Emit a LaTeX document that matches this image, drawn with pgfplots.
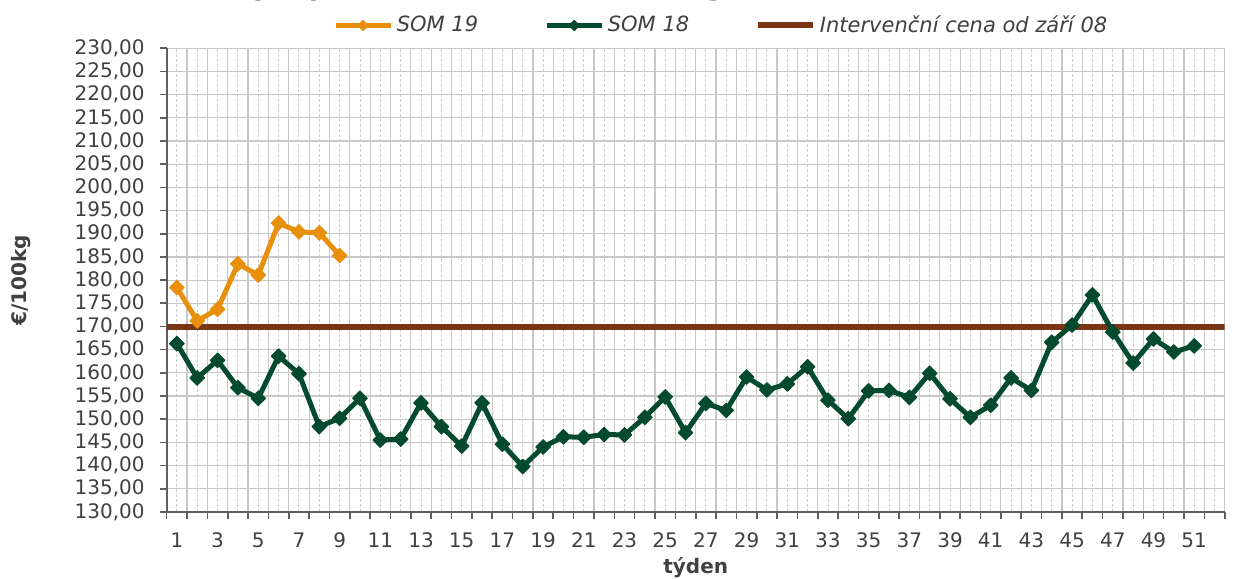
\documentclass[border=0pt]{standalone}
\usepackage{pgfplots}
\pgfplotsset{compat=1.18}
\usepackage{fontspec}
\setmainfont{DejaVu Sans}
\definecolor{somor}{RGB}{232,144,12}
\definecolor{somgr}{RGB}{4,74,46}
\definecolor{intbr}{RGB}{122,52,22}
\definecolor{gridc}{RGB}{200,200,200}
\definecolor{gridd}{RGB}{205,205,205}
\definecolor{axc}{RGB}{95,95,95}
\definecolor{txt}{RGB}{64,64,64}
\begin{document}
\begin{tikzpicture}
\node[anchor=base west, inner sep=0pt, font=\fontsize{15}{18}\bfseries\selectfont, text=somgr] at (31.15pt,258.6pt) {Vývoj cen SOM v EU (€/100kg)};
\begin{axis}[
 at={(0,0)}, anchor=south west,
 scale only axis, width=529pt, height=231.8pt,
 xmin=0.5, xmax=52.5, ymin=130, ymax=230,
 axis x line*=bottom, axis y line*=left,
 x axis line style={-}, y axis line style={-},
 axis line style={draw=axc, line width=1pt},
 tick align=outside, major tick length=3.4pt, minor tick length=0pt,
 tick style={draw=axc, line width=0.8pt},
 xtick={0.5,1.5,...,52.5}, xticklabels={},
 minor xtick={1,2,...,52},
 extra x ticks={1,3,...,51},
 extra x tick style={major tick length=0pt, xmajorgrids=false, tick label style={anchor=base, yshift=-18pt}},
 ytick={130,135,...,230},
 xmajorgrids=true, xminorgrids=true, ymajorgrids=true,
 major grid style={draw=gridc, line width=0.6pt},
 minor grid style={draw=gridd, line width=0.45pt, dash pattern=on 1.5pt off 1pt},
 tick label style={font=\fontsize{10}{12}\selectfont, text=txt, /pgf/number format/assume math mode=true},
 yticklabel style={anchor=east, inner sep=0pt, xshift=-7.45pt,
   /pgf/number format/fixed, /pgf/number format/fixed zerofill, /pgf/number format/precision=2,
   /pgf/number format/use comma, /pgf/number format/1000 sep={}},
 every axis x label/.style={at={(axis description cs:0.5,0)}, anchor=center, yshift=-28pt},
 every axis y label/.style={at={(axis description cs:-0.1377,0.5)}, rotate=90, anchor=center},
 xlabel={týden}, ylabel={€/100kg},
 label style={font=\fontsize{10}{12}\bfseries\selectfont, text=txt},
 legend columns=3,
 legend style={at={(axis description cs:0.1569,1)}, anchor=west, yshift=11.4pt,
   draw=none, fill=none, inner sep=0pt,
   font=\fontsize{10.5}{12}\itshape\selectfont, text=txt,
   nodes={inner sep=0pt},
   /tikz/every odd column/.style={column sep=1.85pt},
   /tikz/every even column/.style={column sep=33pt}},
 legend cell align=left,
 legend image code/.code={\draw[#1, mark repeat=2, mark phase=2, every mark/.append style={scale=0.7}] plot coordinates {(0pt,0pt) (13.75pt,0pt) (27.5pt,0pt)};},
]
\addplot[somor, line width=2.5pt, line join=round, mark=square*, mark size=2.6pt, mark options={rotate=45, fill=somor, draw=somor, line width=0.5pt}]
 coordinates {(1,178.4) (2,171.2) (3,173.7) (4,183.5) (5,181.1) (6,192.3) (7,190.4) (8,190.2) (9,185.3)};
\addlegendentry{SOM 19}
\addplot[intbr, line width=3pt, forget plot] coordinates {(0.5,169.8) (52.5,169.8)};
\addplot[somgr, line width=2.5pt, line join=round, mark=square*, mark size=2.6pt, mark options={rotate=45, fill=somgr, draw=somgr, line width=0.5pt}]
 coordinates {
 (1,166.3) (2,158.9) (3,162.7) (4,156.8) (5,154.5) (6,163.6) (7,159.8) (8,148.4) (9,150.2) (10,154.5)
 (11,145.5) (12,145.7) (13,153.5) (14,148.4) (15,144.2) (16,153.5) (17,144.6) (18,139.8) (19,144.0) (20,146.2)
 (21,146.1) (22,146.7) (23,146.6) (24,150.4) (25,154.8) (26,147.1) (27,153.4) (28,151.9) (29,159.1) (30,156.3)
 (31,157.6) (32,161.3) (33,154.1) (34,150.1) (35,156.1) (36,156.2) (37,154.7) (38,159.9) (39,154.4) (40,150.4)
 (41,153.0) (42,158.9) (43,156.2) (44,166.6) (45,170.3) (46,176.8) (47,168.8) (48,162.1) (49,167.3) (50,164.5)
 (51,165.8)};
\addlegendentry{SOM 18}
\addlegendimage{intbr, line width=3pt}
\addlegendentry{Intervenční cena od září 08}
\end{axis}
\pgfresetboundingbox
\useasboundingbox (-83.35pt,-33.05pt) rectangle (534.65pt,255.95pt);
\end{tikzpicture}
\end{document}
